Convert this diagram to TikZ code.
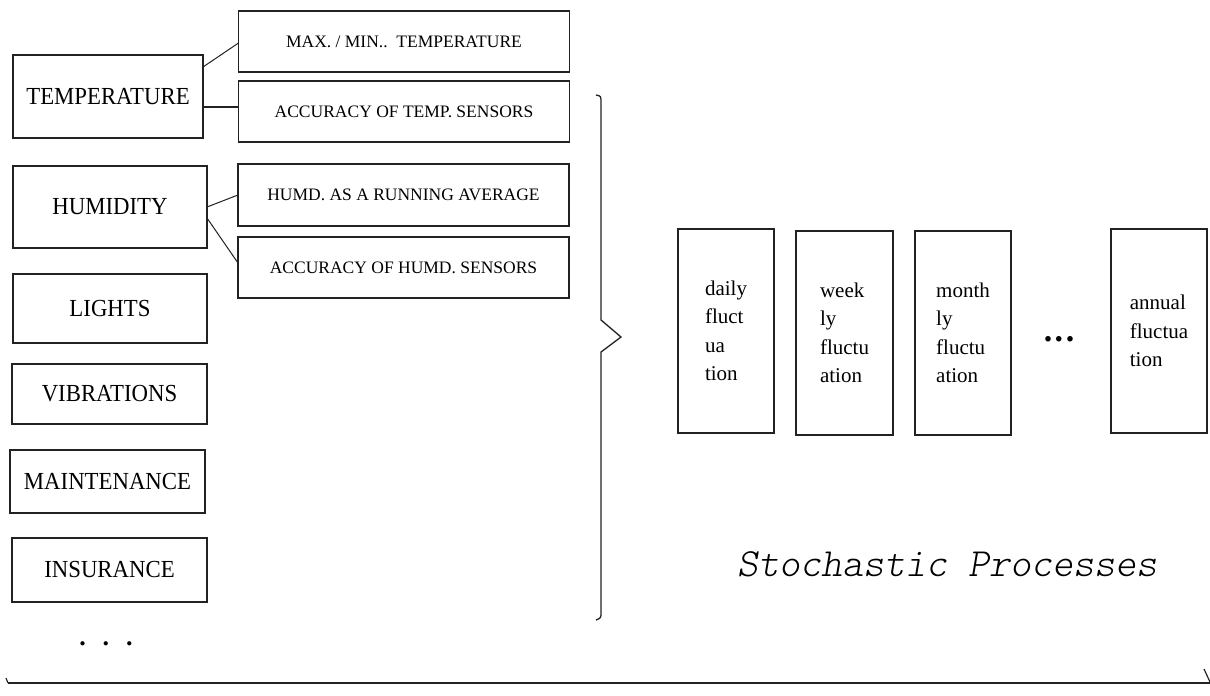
\documentclass[tikz,border=0pt]{standalone}
\usepackage{fontspec}
\setmainfont{Liberation Serif}
\newfontfamily\condserif[FakeStretch=0.93]{Liberation Serif}
\definecolor{ink}{HTML}{222222}
\begin{document}
\begin{tikzpicture}[x=1pt,y=-1pt,
  box/.style={draw=ink,line width=1.6pt,inner sep=0pt,outer sep=0pt,rectangle},
  bigbox/.style={box,font=\condserif\fontsize{24.5}{28}\selectfont},
  subbox/.style={box,font=\fontsize{17.5}{20}\selectfont,minimum width=331pt},
  flbox/.style={box,align=left,minimum width=96pt,minimum height=204pt,font=\fontsize{21}{28.5}\selectfont},
  link/.style={draw=ink,line width=1pt},
  dots/.style={font=\fontsize{34}{36}\selectfont\bfseries,anchor=base,inner sep=0pt}]
\useasboundingbox (0,0) rectangle (1210,696);
\fill[white] (0,0) rectangle (1210,696);
% left boxes
\node[bigbox,minimum width=190pt,minimum height=83pt] (temp) at (108,96.5) {TEMPERATURE};
\node[bigbox,minimum width=194pt,minimum height=82pt] (hum) at (110,207) {HUMIDITY};
\node[bigbox,minimum width=194pt,minimum height=69pt] (lights) at (110,308.5) {LIGHTS};
\node[bigbox,minimum width=195pt,minimum height=60pt] (vib) at (109.5,394) {VIBRATIONS};
\node[bigbox,minimum width=195pt,minimum height=63pt] (maint) at (107.5,481.5) {MAINTENANCE};
\node[bigbox,minimum width=195pt,minimum height=64pt] (ins) at (109.5,570) {INSURANCE};
% sub boxes
\node[subbox,minimum height=61pt] (max) at (404,41.5) {MAX. / MIN..\ \ TEMPERATURE};
\node[subbox,minimum height=61pt] (acct) at (404,111.5) {ACCURACY OF TEMP. SENSORS};
\node[subbox,minimum height=62pt] (humrun) at (403.5,195) {HUMD. AS A RUNNING AVERAGE};
\node[subbox,minimum height=61pt] (acch) at (403.5,267.5) {ACCURACY OF HUMD. SENSORS};
% connectors
\draw[link] ([yshift=29.5pt]temp.east) -- ([yshift=-1.5pt]max.west);
\draw[link,line width=1.6pt] ([yshift=-10.5pt]temp.east) -- ([yshift=4.5pt]acct.west);
\draw[link] (hum.east) -- (humrun.west);
\draw[link] ([yshift=-11pt]hum.east) -- ([yshift=4.5pt]acch.west);
% left dots
\node[dots,font=\fontsize{26}{28}\selectfont\bfseries] (ldots) at (106,645) {.\kern17pt.\kern17pt.};
% brace
\draw[ink,line width=1.3pt] (596,95) .. controls (601,96) .. (601,103) -- (601,320) -- (621,337) -- (601,352) -- (601,612) .. controls (601,618) .. (596,620);
% right boxes
\node[flbox] (daily) at (726,331) {daily\\fluct\\ua\\tion};
\node[flbox,minimum width=97pt] (weekly) at (844.5,333) {week\\ly\\fluctu\\ation};
\node[flbox] (monthly) at (963,333) {month\\ly\\fluctu\\ation};
\node[dots] (rdots) at (1059,341) {.\kern2.5pt.\kern2.5pt.};
\node[flbox] (annual) at (1159,331) {annual\\fluctua\\tion};
% title
\node[font=\fontfamily{lmtt}\fontseries{l}\itshape\fontsize{40}{44}\selectfont,anchor=base] (title) at (947,576) {Stochastic Processes};
% time axis
\coordinate (axl) at (8,683);
\coordinate (axr) at (1210,683);
\draw[ink,line width=2.6pt] (axl) -- (axr);
\draw[ink,line width=1.2pt] (6,678) -- (axl);
\draw[ink,line width=1.2pt] (1204,669) -- (1210,682);
\end{tikzpicture}
\end{document}
